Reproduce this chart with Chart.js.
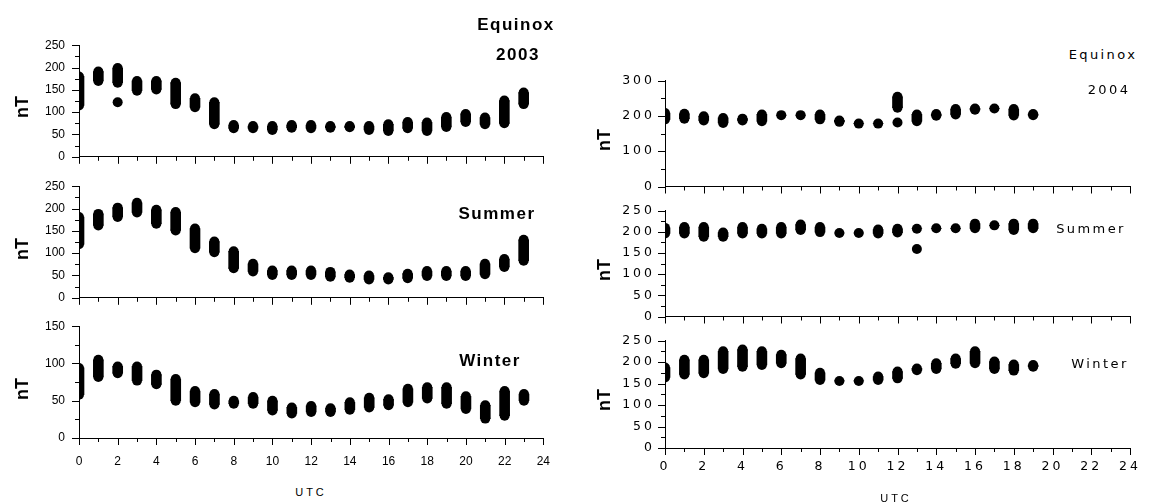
<!DOCTYPE html>
<html>
<head>
<meta charset="utf-8">
<script src="https://cdn.jsdelivr.net/npm/chart.js@4.4.1/dist/chart.umd.min.js"></script>
<style>
  html, body { margin: 0; padding: 0; background: #fff; }
  body { width: 1151px; height: 503px; position: relative; overflow: hidden; font-family: "Liberation Sans", Arial, sans-serif; color: #000; }
  canvas { position: absolute; left: 0; top: 0; }
  .lbl { position: absolute; transform: translate(-50%, -50%); white-space: nowrap; line-height: 1; }
  .l { font-family: "Liberation Sans", Arial, sans-serif; font-weight: bold; font-size: 17px; letter-spacing: 1.5px; }
  .r { font-family: "DejaVu Sans", sans-serif; font-size: 13px; letter-spacing: 2.4px; }
  .nt { font-family: "Liberation Sans", Arial, sans-serif; font-weight: bold; font-size: 18px; transform: translate(-50%, -50%) rotate(-90deg); }
  .utc { font-family: "Liberation Sans", Arial, sans-serif; font-size: 11px; letter-spacing: 3px; }
</style>
</head>
<body>
<canvas id="eq03" width="560" height="140"></canvas>
<canvas id="su03" width="560" height="140"></canvas>
<canvas id="wi03" width="560" height="170"></canvas>
<canvas id="eq04" width="567" height="140"></canvas>
<canvas id="su04" width="567" height="140"></canvas>
<canvas id="wi04" width="567" height="170"></canvas>

<div class="lbl l" style="left:516px;top:24px">Equinox</div>
<div class="lbl l" style="left:518px;top:54px">2003</div>
<div class="lbl l" style="left:497px;top:213px">Summer</div>
<div class="lbl l" style="left:490px;top:360px">Winter</div>
<div class="lbl nt" style="left:22px;top:107px">nT</div>
<div class="lbl nt" style="left:22px;top:249px">nT</div>
<div class="lbl nt" style="left:22px;top:389px">nT</div>
<div class="lbl utc" style="left:311px;top:492px">UTC</div>

<div class="lbl r" style="left:1103px;top:54px">Equinox</div>
<div class="lbl r" style="left:1109px;top:89px">2004</div>
<div class="lbl r" style="left:1091px;top:228px">Summer</div>
<div class="lbl r" style="left:1100px;top:363px">Winter</div>
<div class="lbl nt" style="left:604px;top:140px">nT</div>
<div class="lbl nt" style="left:604px;top:270px">nT</div>
<div class="lbl nt" style="left:604px;top:400px">nT</div>
<div class="lbl utc" style="left:896px;top:498px">UTC</div>

<script>
// Hourly ranges (nT) of the daily variation, lowest and highest value per UTC hour.
const hours2003 = [0,1,2,3,4,5,6,7,8,9,10,11,12,13,14,15,16,17,18,19,20,21,22,23];
const hours2004 = [0,1,2,3,4,5,6,7,8,9,10,11,12,13,14,15,16,17,18,19];

// 2003
const equinox2003Low  = [115,170,166,148,151,118,111,73,64,64,60,65,64,65,66,60,58,64,58,67,78,73,75,118];
const equinox2003High = [180,191,199,170,170,166,131,122,71,69,69,71,71,69,69,69,73,78,77,89,96,88,126,144];
const equinox2003OutlierHours  = [2];
const equinox2003OutlierValues = [122];

const summer2003Low  = [120,162,181,191,166,151,111,102,66,59,51,51,51,47,45,41,41,44,49,49,49,53,69,83];
const summer2003High = [181,188,202,213,197,192,155,126,104,76,61,61,61,58,52,50,46,54,60,60,60,76,87,130];

const winter2003Low  = [58,82,87,77,72,50,48,45,46,46,37,33,35,35,38,41,44,48,53,46,39,26,30,50];
const winter2003High = [94,105,96,96,85,79,63,59,50,55,50,41,43,40,48,54,52,66,68,68,56,44,63,59];

// 2004
const equinox2004Low  = [190,192,187,180,187,185,202,202,190,183,178,178,223,185,200,204,217,221,201,202];
const equinox2004High = [208,206,199,194,192,204,202,202,204,187,178,178,254,204,205,219,221,221,219,205];
const equinox2004OutlierHours  = [12];
const equinox2004OutlierValues = [181];

const summer2004Low  = [196,196,188,188,196,196,196,204,199,197,197,196,198,207,208,208,208,215,204,208];
const summer2004High = [209,211,211,198,211,207,211,217,211,197,197,205,207,207,208,208,219,215,219,219];
const summer2004OutlierHours  = [13];
const summer2004OutlierValues = [159];

const winter2004Low  = [164,171,174,184,189,193,197,171,158,156,156,158,162,181,184,196,197,184,180,189];
const winter2004High = [187,205,205,225,229,225,217,208,175,156,156,166,178,185,197,208,225,201,194,193];

// Tick labels
const hourTickLabels = ['0','2','4','6','8','10','12','14','16','18','20','22','24'];

// Short outward tick marks on both axes, long ones at labelled values.
const tickMarks = {
  id: 'tickMarks',
  afterDraw(chart, args, o) {
    const { ctx, chartArea: a, scales: { x, y } } = chart;
    ctx.save();
    ctx.strokeStyle = '#000';
    ctx.lineWidth = 1;
    ctx.beginPath();
    y.ticks.forEach(t => {
      const py = Math.round(y.getPixelForValue(t.value)) + 0.5;
      const len = t.value % o.yMajor === 0 ? o.majorLen : o.minorLen;
      ctx.moveTo(a.left - len, py);
      ctx.lineTo(a.left + 0.5, py);
    });
    x.ticks.forEach(t => {
      const px = Math.round(x.getPixelForValue(t.value)) + 0.5;
      const len = t.value % 2 === 0 ? o.majorLen : o.minorLen;
      ctx.moveTo(px, a.bottom);
      ctx.lineTo(px, a.bottom + len);
    });
    ctx.stroke();
    ctx.restore();
  }
};

// Letter spacing for the tick labels of a panel.
const labelSpacing = {
  id: 'labelSpacing',
  beforeDraw(chart, args, o) { chart.ctx.letterSpacing = o.value || '0px'; }
};

const columnStyle = {
  left:  { font: { family: '"Liberation Sans", Arial, sans-serif', size: 12 }, spacing: '0px', yWidth: 79, yPad: 14, xPad: 16 },
  right: { font: { family: '"DejaVu Sans", sans-serif', size: 12.5 }, spacing: '3px', yWidth: 85, yPad: 10, xPad: 11 }
};

// Plot-area box of each panel on the page.
const panelBoxes = {
  eq03: { left: 79,  right: 543,  top: 45,  bottom: 157 },
  su03: { left: 79,  right: 543,  top: 186, bottom: 298 },
  wi03: { left: 79,  right: 543,  top: 326, bottom: 438 },
  eq04: { left: 665, right: 1130, top: 80,  bottom: 186 },
  su04: { left: 665, right: 1130, top: 210, bottom: 316 },
  wi04: { left: 665, right: 1130, top: 340, bottom: 447 }
};

function placeChart(chart, box) {
  let a = chart.chartArea;
  const w = Math.round(chart.width + (box.right - box.left) - (a.right - a.left));
  const h = Math.round(chart.height + (box.bottom - box.top) - (a.bottom - a.top));
  chart.resize(w, h);
  a = chart.chartArea;
  chart.canvas.style.left = Math.round(box.left - a.left) + 'px';
  chart.canvas.style.top = Math.round(box.top - a.top) + 'px';
}

function drawPanel(id, p) {
  const st = columnStyle[p.column];
  const bars = p.hours.map((h, i) => ({ x: h, y: [p.low[i], p.high[i]] }));
  const ends = [];
  p.hours.forEach((h, i) => {
    ends.push({ x: h, y: p.low[i] });
    if (p.high[i] !== p.low[i]) ends.push({ x: h, y: p.high[i] });
  });
  (p.outlierHours || []).forEach((h, i) => ends.push({ x: h, y: p.outlierValues[i] }));

  const chart = new Chart(document.getElementById(id), {
    type: 'bar',
    data: {
      datasets: [
        { type: 'bar', data: bars, backgroundColor: '#000', borderWidth: 0, barThickness: 10, clip: 0 },
        { type: 'scatter', data: ends, backgroundColor: '#000', borderWidth: 0, pointRadius: 5, pointHoverRadius: 5, clip: 0 }
      ]
    },
    options: {
      responsive: false,
      maintainAspectRatio: false,
      animation: false,
      events: [],
      layout: { padding: { top: 6, right: 14, bottom: 0, left: 0 } },
      plugins: {
        legend: { display: false },
        tooltip: { enabled: false },
        tickMarks: { yMajor: p.yMajor, majorLen: 7, minorLen: 4 },
        labelSpacing: { value: st.spacing }
      },
      scales: {
        x: {
          type: 'linear', min: 0, max: 24, offset: false,
          grid: { display: false, drawTicks: false },
          border: { display: true, color: '#000', width: 1 },
          ticks: {
            stepSize: 1, autoSkip: false, maxRotation: 0, minRotation: 0,
            padding: st.xPad, color: '#000', font: st.font,
            callback: v => (p.showHours && hourTickLabels.includes(String(v))) ? String(v) : ''
          },
          afterFit: s => { s.height = p.showHours ? 40 : 10; }
        },
        y: {
          min: 0, max: p.yMax,
          grid: { display: false, drawTicks: false },
          border: { display: true, color: '#000', width: 1 },
          ticks: {
            stepSize: p.yMinor, autoSkip: false, padding: st.yPad, color: '#000', font: st.font,
            callback: v => (v % p.yMajor === 0 ? String(v) : '')
          },
          afterFit: s => { s.width = st.yWidth; }
        }
      }
    },
    plugins: [tickMarks, labelSpacing]
  });
  placeChart(chart, panelBoxes[id]);
}

drawPanel('eq03', { column: 'left', hours: hours2003, low: equinox2003Low, high: equinox2003High,
  outlierHours: equinox2003OutlierHours, outlierValues: equinox2003OutlierValues, yMax: 250, yMajor: 50, yMinor: 25, showHours: false });
drawPanel('su03', { column: 'left', hours: hours2003, low: summer2003Low, high: summer2003High,
  yMax: 250, yMajor: 50, yMinor: 25, showHours: false });
drawPanel('wi03', { column: 'left', hours: hours2003, low: winter2003Low, high: winter2003High,
  yMax: 150, yMajor: 50, yMinor: 25, showHours: true });

drawPanel('eq04', { column: 'right', hours: hours2004, low: equinox2004Low, high: equinox2004High,
  outlierHours: equinox2004OutlierHours, outlierValues: equinox2004OutlierValues, yMax: 300, yMajor: 100, yMinor: 50, showHours: false });
drawPanel('su04', { column: 'right', hours: hours2004, low: summer2004Low, high: summer2004High,
  outlierHours: summer2004OutlierHours, outlierValues: summer2004OutlierValues, yMax: 250, yMajor: 50, yMinor: 25, showHours: false });
drawPanel('wi04', { column: 'right', hours: hours2004, low: winter2004Low, high: winter2004High,
  yMax: 250, yMajor: 50, yMinor: 25, showHours: true });
</script>
</body>
</html>
